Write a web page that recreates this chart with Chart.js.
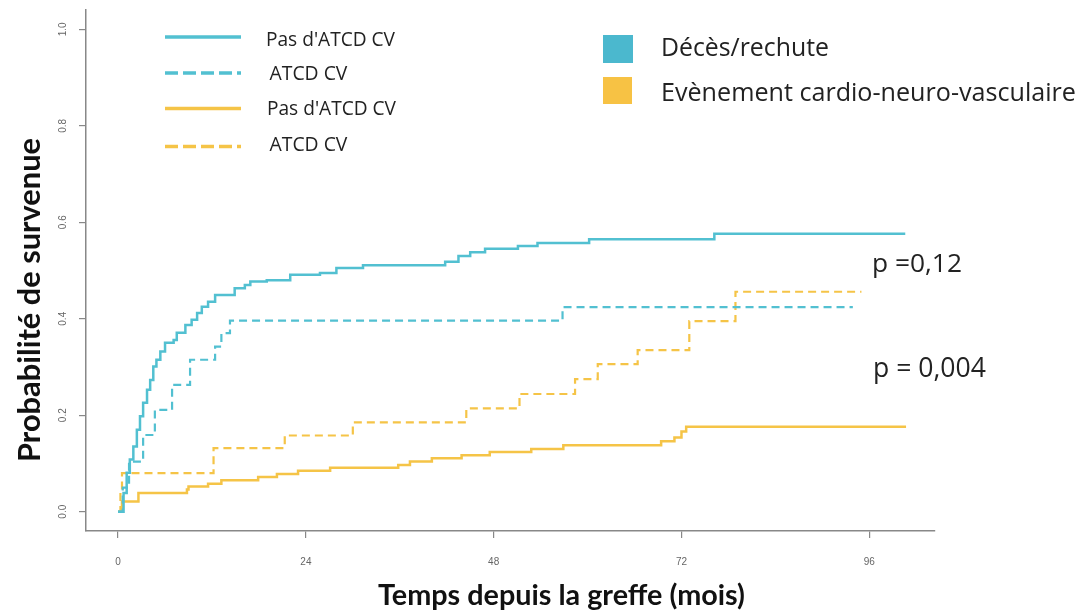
<!DOCTYPE html>
<html>
<head>
<meta charset="utf-8">
<script src="https://cdn.jsdelivr.net/npm/chart.js@4.4.0/dist/chart.umd.min.js"></script>
<style>
  html, body { margin: 0; padding: 0; background: #fff; }
  #wrap { width: 1085px; height: 611px; }
</style>
</head>
<body>
<div id="wrap"><canvas id="chart" width="1085" height="611"></canvas></div>
<script>
// --- Axis ticks ---
const xTicks = [0, 24, 48, 72, 96];
const yTicks = [0, 0.2, 0.4, 0.6, 0.8, 1.0];

// --- Cumulative incidence curves (months, probability) ---
// Décès/rechute, pas d'ATCD CV
const deathNoCvT = [0, 0.7, 1.1, 1.5, 1.95, 2.4, 2.8, 3.2, 3.7, 4.1, 4.5, 4.9, 5.4, 6.0, 7.1, 7.5, 8.6, 9.4, 10.1, 10.7, 11.5, 12.4, 14.9, 16.2, 16.9, 19.0, 22.0, 25.8, 27.9, 31.3, 41.8, 43.5, 45.0, 46.9, 51.1, 53.6, 60.2, 76.2, 100.6];
const deathNoCvP = [0, 0.039, 0.081, 0.108, 0.135, 0.170, 0.198, 0.226, 0.253, 0.273, 0.301, 0.315, 0.332, 0.350, 0.356, 0.371, 0.387, 0.398, 0.412, 0.425, 0.435, 0.449, 0.463, 0.470, 0.477, 0.480, 0.491, 0.495, 0.505, 0.511, 0.518, 0.530, 0.538, 0.545, 0.551, 0.557, 0.565, 0.576, 0.576];
// Décès/rechute, ATCD CV
const deathCvT = [0, 0.6, 1.4, 3.2, 4.7, 6.9, 9.2, 12.4, 13.2, 14.3, 56.8, 93.9];
const deathCvP = [0, 0.05, 0.104, 0.159, 0.211, 0.263, 0.315, 0.342, 0.370, 0.396, 0.424, 0.424];
// Evènement cardio-neuro-vasculaire, pas d'ATCD CV
const cnvNoCvT = [0, 0.5, 2.6, 8.8, 9.0, 11.5, 13.2, 17.9, 20.3, 23.0, 27.1, 35.8, 37.3, 40.1, 43.9, 47.5, 52.8, 56.9, 69.4, 71.1, 72.0, 72.6, 100.7];
const cnvNoCvP = [0, 0.021, 0.039, 0.046, 0.052, 0.058, 0.065, 0.072, 0.078, 0.085, 0.091, 0.097, 0.104, 0.111, 0.117, 0.124, 0.130, 0.138, 0.146, 0.154, 0.166, 0.176, 0.176];
// Evènement cardio-neuro-vasculaire, ATCD CV
const cnvCvT = [0, 0.3, 0.5, 12.2, 21.3, 30.0, 44.5, 51.3, 58.4, 61.3, 66.4, 73.0, 78.9, 95.0];
const cnvCvP = [0, 0.04, 0.080, 0.132, 0.158, 0.185, 0.214, 0.244, 0.275, 0.306, 0.335, 0.395, 0.456, 0.456];

const lineLabels = ["Pas d'ATCD CV", "ATCD CV", "Pas d'ATCD CV", "ATCD CV"];
const groupLabels = ['Décès/rechute', 'Evènement cardio-neuro-vasculaire'];
const pValues = ['p =0,12', 'p = 0,004'];

const CYAN = '#52c0d1';
const YELLOW = '#f5c447';

function toPoints(ts, ps) {
    return ts.map((t, i) => ({x: t, y: ps[i]}));
}

// set font size so the text fills the given width
function fitFont(ctx, text, width, weight, family) {
    ctx.font = weight + ' 100px ' + family;
    let size = 100 * width / ctx.measureText(text).width;
    ctx.font = weight + ' ' + size.toFixed(2) + 'px ' + family;
}

const overlay = {
    id: 'overlay',
    afterDraw(chart) {
        const ctx = chart.ctx;
        const ys = chart.scales.y;
        ctx.save();
        // y tick labels, rotated like R
        ctx.fillStyle = '#666';
        ctx.font = '10px "Liberation Sans", Arial, sans-serif';
        ctx.textAlign = 'center';
        ctx.textBaseline = 'middle';
        yTicks.forEach(v => {
            ctx.save();
            ctx.translate(63, ys.getPixelForValue(v));
            ctx.rotate(-Math.PI / 2);
            ctx.fillText(v.toFixed(1), 0, 0);
            ctx.restore();
        });

        // line legend
        const sampleY = [37, 73, 108.5, 146.5];
        const textX = [266, 269.5, 267, 269.5];
        const textBase = [46, 79.5, 114.5, 150.5];
        const textW = [129, 78, 129, 78];
        ctx.textAlign = 'left';
        ctx.textBaseline = 'alphabetic';
        lineLabels.forEach((lab, i) => {
            ctx.strokeStyle = i < 2 ? CYAN : YELLOW;
            ctx.lineWidth = 3.5;
            ctx.setLineDash(i % 2 ? [13, 5] : []);
            ctx.beginPath();
            ctx.moveTo(165, sampleY[i]);
            ctx.lineTo(241, sampleY[i]);
            ctx.stroke();
            ctx.setLineDash([]);
            ctx.fillStyle = '#222';
            fitFont(ctx, lab, textW[i], 'normal', '"Open Sans", sans-serif');
            ctx.fillText(lab, textX[i], textBase[i]);
        });

        // colour legend
        ctx.fillStyle = '#4bb8ce';
        ctx.fillRect(603, 35, 30, 28);
        ctx.fillStyle = '#f7c244';
        ctx.fillRect(603, 77, 29, 27);
        ctx.fillStyle = '#222';
        fitFont(ctx, groupLabels[0], 168, 'normal', '"Open Sans", sans-serif');
        ctx.fillText(groupLabels[0], 661, 56);
        fitFont(ctx, groupLabels[1], 415, 'normal', '"Open Sans", sans-serif');
        ctx.fillText(groupLabels[1], 661, 101);

        // p values
        fitFont(ctx, pValues[0], 90, 'normal', '"Open Sans", sans-serif');
        ctx.fillText(pValues[0], 872, 272);
        fitFont(ctx, pValues[1], 113, 'normal', '"Open Sans", sans-serif');
        ctx.fillText(pValues[1], 873, 377);

        // axis titles
        ctx.fillStyle = '#111';
        fitFont(ctx, 'Temps depuis la greffe (mois)', 367, 'bold', 'Lato, "Open Sans", sans-serif');
        ctx.fillText('Temps depuis la greffe (mois)', 378, 605);
        ctx.save();
        ctx.translate(40, 300);
        ctx.rotate(-Math.PI / 2);
        ctx.textAlign = 'center';
        fitFont(ctx, 'Probabilité de survenue', 324, 'bold', 'Lato, "Open Sans", sans-serif');
        ctx.fillText('Probabilité de survenue', 0, 0);
        ctx.restore();
        ctx.restore();
    }
};

function series(ts, ps, color, dashed) {
    return {
        data: toPoints(ts, ps),
        borderColor: color,
        borderWidth: dashed ? 2.2 : 2.5,
        borderDash: dashed ? [8, 5] : [],
        stepped: true,
        pointRadius: 0,
        fill: false
    };
}

new Chart(document.getElementById('chart'), {
    type: 'line',
    data: {
        datasets: [
            series(deathNoCvT, deathNoCvP, CYAN, false),
            series(deathCvT, deathCvP, CYAN, true),
            series(cnvNoCvT, cnvNoCvP, YELLOW, false),
            series(cnvCvT, cnvCvP, YELLOW, true)
        ]
    },
    options: {
        responsive: false,
        animation: false,
        layout: {padding: {top: 10, right: 150, left: 0, bottom: 0}},
        plugins: {legend: {display: false}, tooltip: {enabled: false}},
        scales: {
            x: {
                type: 'linear',
                min: -4.1,
                max: 104.4,
                afterBuildTicks: s => { s.ticks = xTicks.map(v => ({value: v})); },
                afterFit: s => { s.height = 80; },
                ticks: {color: '#666', padding: 18, font: {size: 10, family: '"Liberation Sans", Arial, sans-serif'}},
                grid: {drawOnChartArea: false, drawTicks: true, tickLength: 7, color: '#888', lineWidth: 1.2},
                border: {display: true, color: '#888', width: 1.5}
            },
            y: {
                type: 'linear',
                min: -0.04,
                max: 1.04,
                afterBuildTicks: s => { s.ticks = yTicks.map(v => ({value: v})); },
                afterFit: s => { s.width = 86; },
                ticks: {display: false},
                grid: {drawOnChartArea: false, drawTicks: true, tickLength: 7, color: '#888', lineWidth: 1.2},
                border: {display: true, color: '#888', width: 1.5}
            }
        }
    },
    plugins: [overlay]
});
</script>
</body>
</html>
